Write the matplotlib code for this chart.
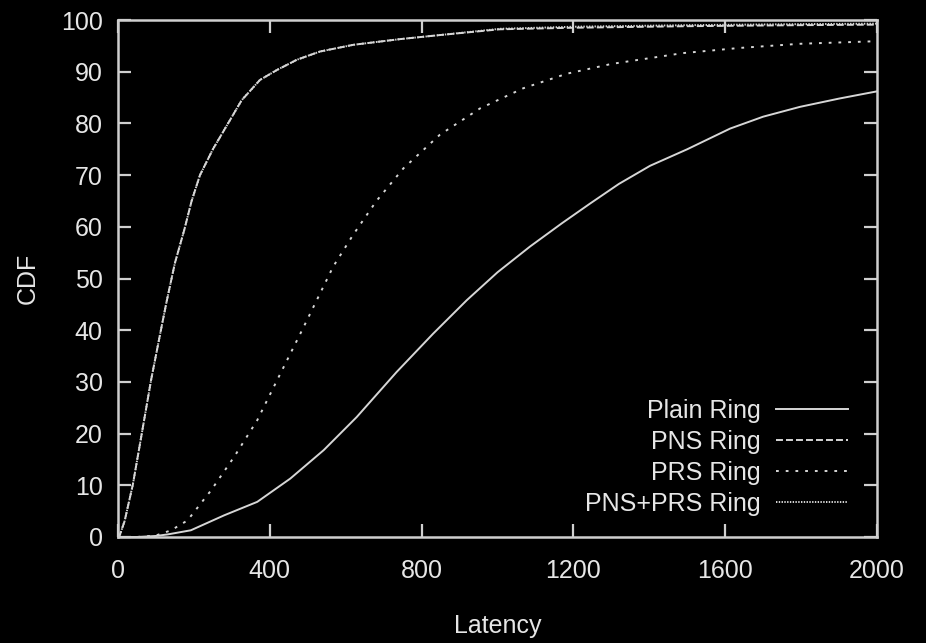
import matplotlib
matplotlib.use("Agg")
import matplotlib.pyplot as plt
from matplotlib import font_manager

# ---- data ----
plain_x = [0, 50, 100, 131, 192, 280, 367, 454, 542, 629, 734, 830, 919, 1000,
           1086, 1170, 1244, 1320, 1402, 1500, 1613, 1700, 1797, 1900, 2000]
plain_y = [0, 0, 0.2, 0.5, 1.3, 4.2, 6.8, 11.3, 16.8, 23.2, 31.9, 39.3, 45.8, 51.2,
           56.2, 60.7, 64.5, 68.3, 71.8, 75.0, 79.0, 81.3, 83.2, 84.8, 86.2]

pns_x = [0, 4, 17.5, 39, 61, 87, 113, 128, 150, 175, 194, 216, 250, 290, 326, 374,
         418, 471, 532, 620, 743, 850, 1006, 1200, 1500, 1800, 2000]
pns_y = [0, 0.2, 3.1, 10.1, 19.3, 30.3, 40.0, 45.5, 53, 59.5, 65, 70, 75, 80, 84.5, 88.4,
         90.3, 92.3, 93.9, 95.2, 96.3, 97.1, 98.2, 98.5, 98.8, 99.0, 99.1]

prs_x = [0, 50, 100, 140, 183, 245, 306, 367, 419, 485, 567, 620, 681, 752, 848, 954,
         1068, 1182, 1300, 1489, 1639, 1797, 2000]
prs_y = [0, 0, 0.3, 1.3, 3.2, 9.0, 15.5, 22.6, 30.3, 40.0, 52.3, 58.5, 65.0, 71.3, 77.8,
         82.9, 86.8, 89.6, 91.5, 93.6, 94.6, 95.4, 95.9]

both_x = [0, 4, 17.5, 39, 61, 87, 113, 128, 150, 175, 194, 216, 250, 290, 326, 374,
          418, 471, 532, 620, 743, 850, 1006, 1200, 1500, 1800, 2000]
both_y = [0, 0.2, 3.1, 10.1, 19.3, 30.3, 40.0, 45.5, 53, 59.5, 65, 70, 75, 80, 84.5, 88.4,
          90.3, 92.3, 93.9, 95.2, 96.3, 97.1, 98.3, 98.7, 99.0, 99.2, 99.3]

labels = ["Plain Ring", "PNS Ring", "PRS Ring", "PNS+PRS Ring"]
x_ticks = [0, 400, 800, 1200, 1600, 2000]
y_ticks = [0, 10, 20, 30, 40, 50, 60, 70, 80, 90, 100]

# ---- style ----
names = {f.name for f in font_manager.fontManager.ttflist}
fam = ["Liberation Sans Narrow", "DejaVu Sans"] if "Liberation Sans Narrow" in names \
    else ["Liberation Sans", "DejaVu Sans"]
plt.rcParams["font.family"] = fam
plt.rcParams["lines.scale_dashes"] = False

fg = "#e6e6e6"
line_c = "#d6d6d6"

fig = plt.figure(figsize=(9.26, 6.43), dpi=100, facecolor="black")
ax = fig.add_axes([118 / 926, 1 - 537 / 643, (877 - 118) / 926, (537 - 20) / 643])
ax.set_facecolor("black")

lw = 1.4
ax.plot(plain_x, plain_y, color=line_c, lw=lw, linestyle="-", label=labels[0])
ax.plot(pns_x, pns_y, color=line_c, lw=lw, linestyle=(0, (5, 2.2)), label=labels[1])
ax.plot(prs_x, prs_y, color=line_c, lw=lw, linestyle=(0, (2, 5)), label=labels[2])
ax.plot(both_x, both_y, color=line_c, lw=lw, linestyle=(0, (1, 1)), label=labels[3])

ax.set_xlim(0, 2000)
ax.set_ylim(0, 100)
ax.set_xticks(x_ticks)
ax.set_yticks(y_ticks)

for s in ax.spines.values():
    s.set_color("#cfcfcf")
    s.set_linewidth(1.8)

ax.tick_params(axis="both", direction="in", length=9.5, width=1.6, color="#cfcfcf",
               top=True, right=True, labelsize=18, labelcolor=fg)
ax.tick_params(axis="x", pad=16)
ax.tick_params(axis="y", pad=11)

ax.set_xlabel("Latency", fontsize=18, color=fg, labelpad=22)
ax.set_ylabel("CDF", fontsize=18, color=fg, labelpad=15)

leg = ax.legend(loc="lower right", bbox_to_anchor=(848 / 926, 1 - 516 / 643),
                bbox_transform=fig.transFigure, frameon=False, markerfirst=False,
                fontsize=18, handlelength=2.9, handletextpad=0.6, labelspacing=0.28,
                borderpad=0, borderaxespad=0)
for t in leg.get_texts():
    t.set_color(fg)

fig.savefig("out.png", dpi=100, facecolor="black")
